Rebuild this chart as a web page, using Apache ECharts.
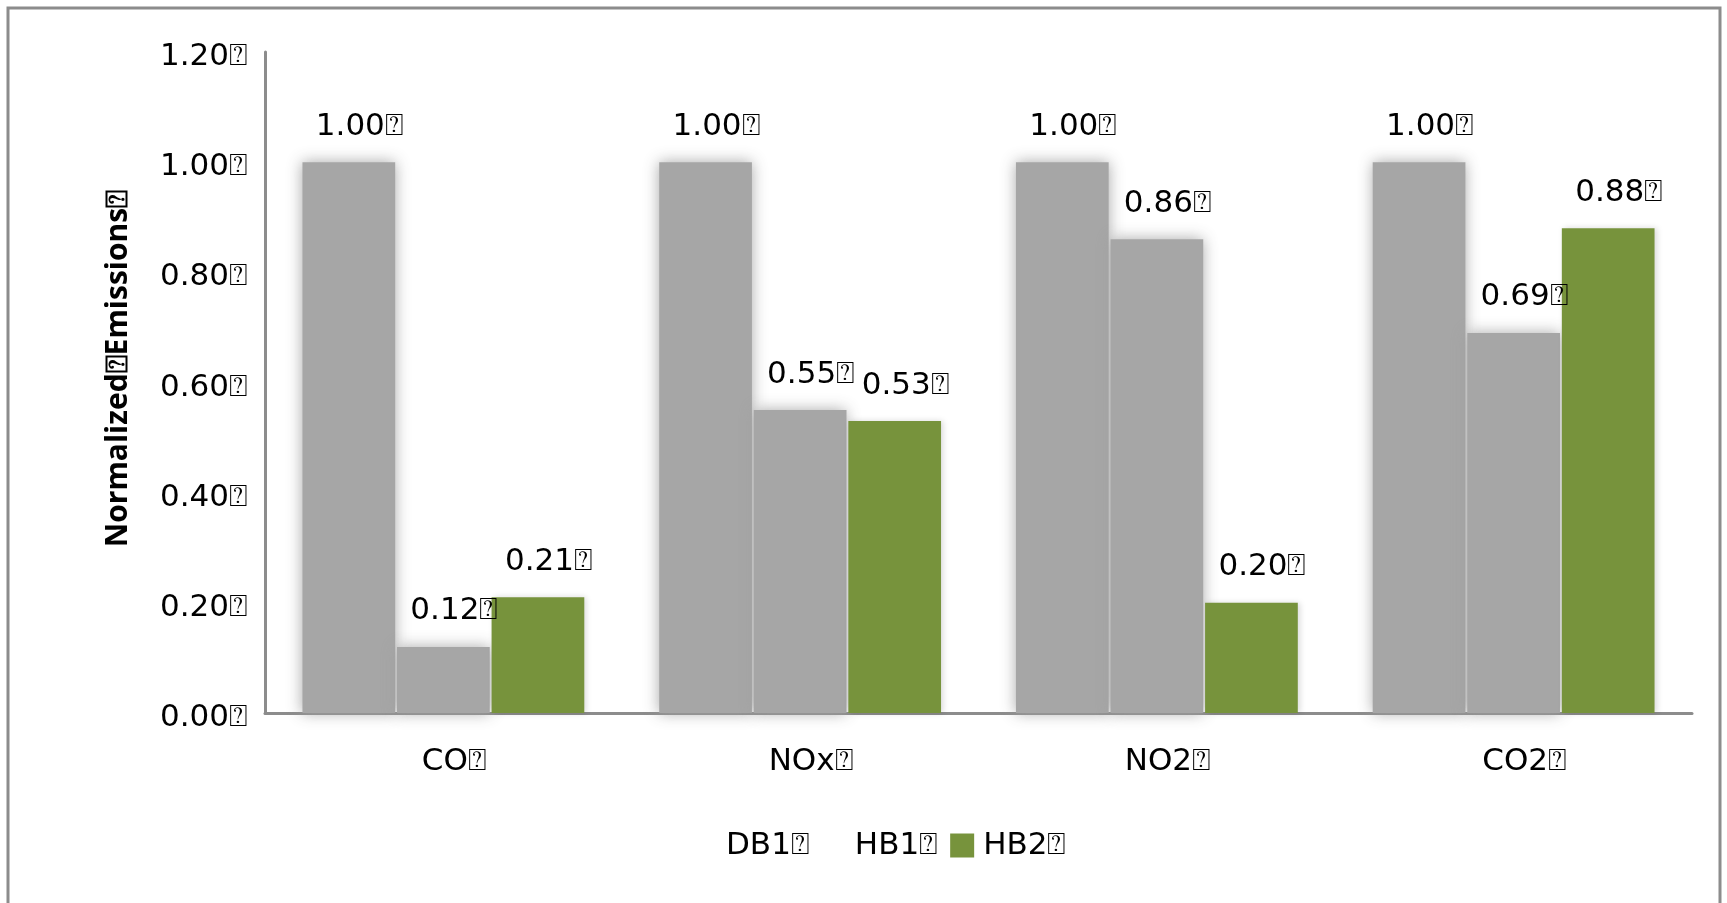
<!DOCTYPE html>
<html>
<head>
<meta charset="utf-8">
<script src="https://cdn.jsdelivr.net/npm/echarts@6/dist/echarts.min.js"></script>
<style>
  html, body { margin: 0; padding: 0; background: #fff; }
  #chart { width: 1727px; height: 903px; }
</style>
</head>
<body>
<div id="chart"></div>
<script>
// Pollutant categories and normalized emissions per burner
const categories = ['CO', 'NOx', 'NO2', 'CO2'];
const db1 = [1.00, 1.00, 1.00, 1.00];
const hb1 = [0.12, 0.55, 0.86, 0.69];
const hb2 = [0.21, 0.53, 0.20, 0.88];
const seriesNames = ['DB1', 'HB1', 'HB2'];
const yTicks = { min: 0, max: 1.2, interval: 0.2 };

const MARK = '\u2370';
const FONT = 'DejaVu Sans';
const FS = 31;

const chart = echarts.init(document.getElementById('chart'));

function label() {
  return {
    show: true,
    position: 'top',
    distance: 20,
    offset: [11, 0],
    color: '#000',
    fontFamily: FONT,
    fontSize: FS,
    formatter: p => p.value.toFixed(2) + MARK
  };
}

// soft-edged gray bars
const grayStyle = {
  color: '#A6A6A6',
  shadowBlur: 14,
  shadowColor: 'rgba(160,160,160,0.9)'
};

chart.setOption({
  animation: false,
  backgroundColor: '#fff',
  graphic: [{
    type: 'rect',
    shape: { x: 8, y: 8, width: 1712, height: 905 },
    style: { fill: 'none', stroke: '#8c8c8c', lineWidth: 3 }
  }],
  grid: { left: 265, right: 35, top: 52, bottom: 190 },
  legend: {
    left: 688,
    top: 825,
    icon: 'rect',
    itemWidth: 24,
    itemHeight: 24,
    itemGap: 12,
    textStyle: {
      fontFamily: FONT, fontSize: FS, color: '#000',
      padding: [0, 0, 0, 4]
    },
    formatter: n => n + MARK,
    data: [
      { name: seriesNames[0], itemStyle: { opacity: 0 } },
      { name: seriesNames[1], itemStyle: { opacity: 0 } },
      { name: seriesNames[2] }
    ]
  },
  xAxis: {
    type: 'category',
    data: categories,
    axisLine: { lineStyle: { color: '#8c8c8c', width: 3 } },
    axisTick: { show: false },
    axisLabel: {
      margin: 33,
      padding: [0, 0, 0, 22],
      color: '#000',
      fontFamily: FONT,
      fontSize: FS,
      formatter: v => v + MARK
    }
  },
  yAxis: {
    type: 'value',
    min: yTicks.min,
    max: yTicks.max,
    interval: yTicks.interval,
    name: 'Normalized' + MARK + 'Emissions' + MARK,
    nameLocation: 'middle',
    nameRotate: 90,
    nameGap: 132,
    nameTextStyle: {
      fontFamily: 'Open Sans',
      fontWeight: 'bold',
      fontSize: 30,
      color: '#000',
      padding: [0, 0, 0, 28]
    },
    axisLine: { show: true, lineStyle: { color: '#8c8c8c', width: 3 } },
    axisTick: { show: false },
    splitLine: { show: false },
    axisLabel: {
      margin: 17,
      color: '#000',
      formatter: v => '{t|' + v.toFixed(2) + MARK + '}',
      rich: {
        t: {
          fontFamily: FONT,
          fontSize: FS,
          color: '#000',
          padding: [10, 0, 0, 0]
        }
      }
    }
  },
  series: [
    {
      name: seriesNames[0], type: 'bar', data: db1,
      barGap: '2%', barCategoryGap: '21%',
      itemStyle: grayStyle, label: label()
    },
    {
      name: seriesNames[1], type: 'bar', data: hb1,
      itemStyle: grayStyle, label: label()
    },
    {
      name: seriesNames[2], type: 'bar', data: hb2,
      itemStyle: { color: '#77933C', shadowBlur: 6, shadowOffsetX: 2, shadowColor: 'rgba(0,0,0,0.15)' },
      label: label()
    }
  ]
});
</script>
</body>
</html>
